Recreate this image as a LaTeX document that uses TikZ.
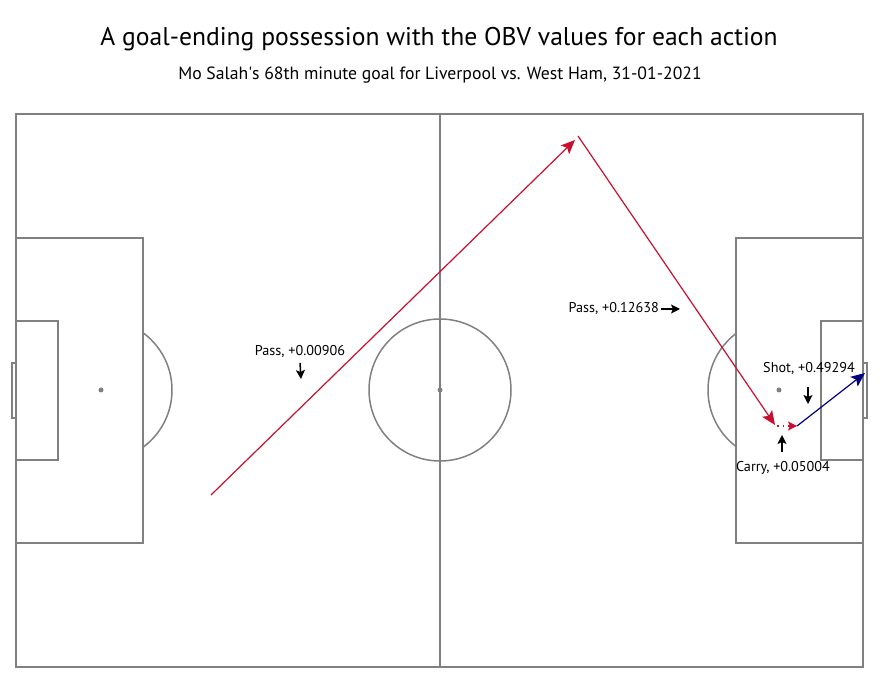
\documentclass[tikz,border=0pt]{standalone}
\usepackage{fontspec}
\setmainfont{PT Sans}
\usetikzlibrary{arrows.meta}

\definecolor{pitchgrey}{RGB}{128,128,128}
\definecolor{passred}{RGB}{200,16,46}
\definecolor{shotnavy}{RGB}{0,0,128}

\begin{document}
\begin{tikzpicture}[x=1pt,y=-1pt,
  pitchline/.style={pitchgrey, line width=1.5pt},
  passline/.style={passred, line width=1.2pt, -{Stealth[length=14pt,width=12pt,inset=3pt]}},
  carryline/.style={passred, line width=1.2pt, dash pattern=on 1.5pt off 4pt, -{Stealth[length=9pt,width=9pt,inset=2pt]}},
  shotline/.style={shotnavy, line width=1.2pt, -{Stealth[length=14pt,width=12pt,inset=3pt]}},
  pointer/.style={black, line width=1.5pt, -{Stealth[length=9pt,width=9pt,inset=2pt]}},
  obvlabel/.style={inner sep=0pt, font=\fontsize{14.2}{16}\selectfont}]
  \useasboundingbox (0,0) rectangle (887,676);

  % Title and subtitle
  \node (title) at (439,39) {\fontsize{25.6}{30}\selectfont A goal-ending possession with the OBV values for each action};
  \node (subtitle) at (440,75) {\fontsize{17.7}{21}\selectfont Mo Salah\textquotesingle s 68th minute goal for Liverpool vs. West Ham, 31-01-2021};

  % Outline and halfway line
  \draw[pitchline] (16,114) rectangle (863,667);
  \draw[pitchline] (440,114) -- (440,667);

  % Centre circle and spot
  \draw[pitchline] (440,390) circle[radius=71pt];
  \fill[pitchgrey] (440,390) circle[radius=2.5pt];

  % Left end
  \draw[pitchline] (16,238) rectangle (143,543);
  \draw[pitchline] (16,321) rectangle (58,460);
  \draw[pitchline] (12,363) rectangle (16,418);
  \fill[pitchgrey] (101,390) circle[radius=2.5pt];
  \begin{scope}
    \clip (143,300) rectangle (200,480);
    \draw[pitchline] (101,390) circle[radius=71pt];
  \end{scope}

  % Right end
  \draw[pitchline] (736,238) rectangle (863,543);
  \draw[pitchline] (821,321) rectangle (863,460);
  \draw[pitchline] (863,363) rectangle (867,418);
  \fill[pitchgrey] (779,390) circle[radius=2.5pt];
  \begin{scope}
    \clip (690,300) rectangle (736,480);
    \draw[pitchline] (779,390) circle[radius=71pt];
  \end{scope}

  % Event locations
  \coordinate (passAstart) at (211,495);
  \coordinate (passAend) at (575,140);
  \coordinate (passBstart) at (578,136);
  \coordinate (passBend) at (775,425);
  \coordinate (carrystart) at (777,426);
  \coordinate (carryend) at (797,426);
  \coordinate (shotend) at (865,373);

  % Actions
  \draw[passline] (passAstart) -- (passAend);
  \draw[passline] (passBstart) -- (passBend);
  \draw[carryline] (carrystart) -- (carryend);
  \draw[shotline] (carryend) -- (shotend);

  % OBV labels with pointers
  \node[obvlabel] (passAlabel) at (300,352) {Pass, +0.00906};
  \coordinate (passAtip) at (301,379);
  \draw[pointer] (passAlabel.south |- 0,363) -- (passAtip);

  \node[obvlabel, anchor=east] (passBlabel) at (659,309) {Pass, +0.12638};
  \coordinate (passBtip) at (680,309);
  \draw[pointer] ([xshift=2pt]passBlabel.east) -- (passBtip);

  \node[obvlabel] (shotlabel) at (809,369) {Shot, +0.49294};
  \coordinate (shottip) at (808,404);
  \draw[pointer] (808,387) -- (shottip);

  \node[obvlabel] (carrylabel) at (783,468) {Carry, +0.05004};
  \coordinate (carrytip) at (782,435);
  \draw[pointer] (782,452) -- (carrytip);
\end{tikzpicture}
\end{document}
